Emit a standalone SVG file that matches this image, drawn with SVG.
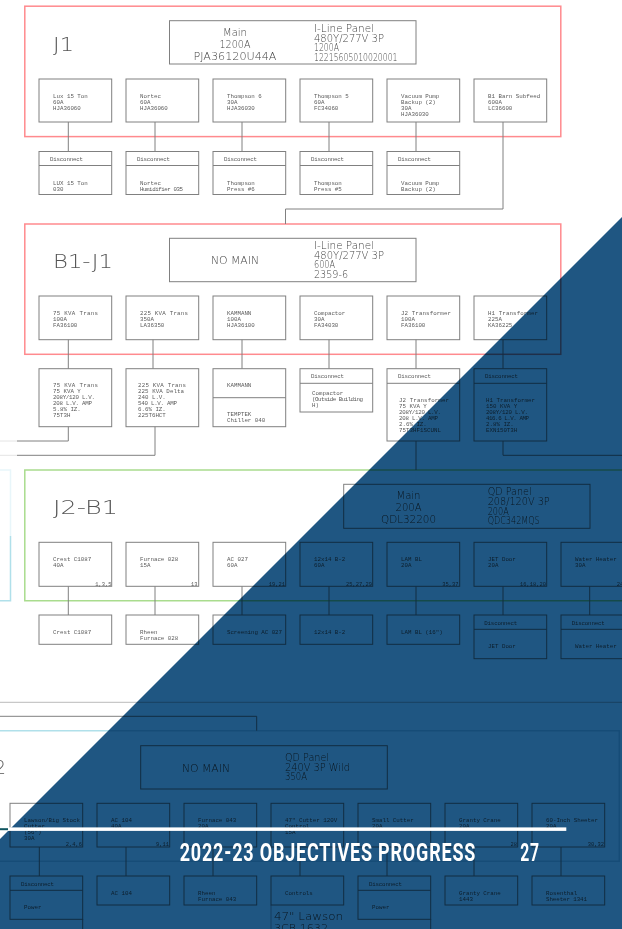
<svg xmlns="http://www.w3.org/2000/svg" width="622" height="929" viewBox="0 0 622 929">
<style>
text{font-family:"Liberation Mono","DejaVu Sans Mono",monospace;fill:#5a5a5a}
.s{font-size:5.8px}
.n{font-size:5.4px;text-anchor:end}
.m{font-family:"DejaVu Sans","Liberation Sans",sans-serif;font-weight:200;font-size:9.6px;fill:#444}
.l{font-family:"DejaVu Sans","Liberation Sans",sans-serif;font-weight:200;font-size:11px;text-anchor:middle;fill:#444}
.t{font-family:"DejaVu Sans","Liberation Sans",sans-serif;font-weight:200;font-size:20px;fill:#555}
.b,.c{fill:none;stroke:#808080;stroke-width:1}
.p{fill:none;stroke:#ff8a8e;stroke-width:1.5}
.g{fill:none;stroke:#a9dc8e;stroke-width:1.5}
.y{fill:none;stroke:#b0e0ea;stroke-width:1.5}
.h{font-family:Roboto,"Liberation Sans",sans-serif;font-weight:700;font-size:26.3px;letter-spacing:1.2px;fill:#fff}
</style>
<rect width="622" height="929" fill="#fff"/>
<g id="frames">
<rect class="p" x="24.8" y="6.2" width="536" height="130.4"/>
<rect class="p" x="24.8" y="224" width="536" height="130.3"/>
<path class="g" d="M630 470H24.8V600.7H630"/>
<path d="M0 470H10.5V536" fill="none" stroke="#e8f6fa" stroke-width="1.5"/>
<path class="y" d="M10.5 536V600.7H0"/>
<path class="y" d="M0 730.7H619.3V861.3H0"/>
<path d="M0 702.3H622" fill="none" stroke="#bbb" stroke-width="1"/>
<path d="M271 905V929" fill="none" stroke="#a8b4bc" stroke-width="1"/>
<path d="M430.7 919V929" fill="none" stroke="#808080" stroke-width="1"/>
<path d="M82.7 919V929" fill="none" stroke="#808080" stroke-width="1"/>
</g>
<g id="connectors">
<path class="c" d="M68.3 122V151.5M155 122V151.5M242 122V151.5M329 122V151.5M416 122V151.5"/>
<path class="c" d="M503 122V209H285.5V224"/>
<path class="c" d="M68.3 339.7V368.7M153 339.7V368.7M242 339.7V368.7M329 339.7V368.7M416 339.7V368.7M503 339.7V368.7"/>
<path class="c" d="M68.3 426.7V441H17"/>
<path d="M17 441H0M17 455.3H0" fill="none" stroke="#e4e4e4" stroke-width="1"/>
<path class="c" d="M155 426.7V455.3H17"/>
<path class="c" d="M416 441V470"/>
<path class="c" d="M503 441V455.3H622"/>
<path class="c" d="M68.3 586.3V615M155 586.3V615M242 586.3V615M329 586.3V615M416 586.3V615M503 586.3V615M589.7 586.3V615"/>
<path class="c" d="M0 716.3H256.7V730.7"/>
<path class="c" d="M39.3 847V876M126 847V876M213 847V876M300 847V876M387 847V876M474 847V876M561 847V876"/>
</g>

<g id="j1">
<text class="t" x="53" y="50.7" textLength="21" lengthAdjust="spacingAndGlyphs">J1</text>
<g id="j1-main"><rect class="b" x="169.5" y="20.7" width="246.5" height="43.3"/>
<text class="l" x="235" y="35.7" textLength="24" lengthAdjust="spacingAndGlyphs">Main</text><text class="l" x="235" y="47.7" textLength="31" lengthAdjust="spacingAndGlyphs">1200A</text><text class="l" x="235" y="59.7" textLength="83" lengthAdjust="spacingAndGlyphs">PJA36120U44A</text>
<text class="m" x="314" y="32" textLength="60" lengthAdjust="spacingAndGlyphs">I-Line Panel</text><text class="m" x="314" y="41.5" textLength="70" lengthAdjust="spacingAndGlyphs">480Y/277V 3P</text><text class="m" x="314" y="51" textLength="25" lengthAdjust="spacingAndGlyphs">1200A</text><text class="m" x="314" y="60.6" textLength="83.5" lengthAdjust="spacingAndGlyphs">12215605010020001</text></g>
<g id="j1-lux"><rect class="b" x="39" y="79" width="72.7" height="43"/><text class="s" x="53" y="97.5">Lux 15 Ton</text><text class="s" x="53" y="103.5">60A</text><text class="s" x="53" y="109.5">HJA36060</text></g>
<g id="j1-nortec"><rect class="b" x="126" y="79" width="72.7" height="43"/><text class="s" x="140" y="97.5">Nortec</text><text class="s" x="140" y="103.5">60A</text><text class="s" x="140" y="109.5">HJA36060</text></g>
<g id="j1-thompson6"><rect class="b" x="213" y="79" width="72.7" height="43"/><text class="s" x="227" y="97.5">Thompson 6</text><text class="s" x="227" y="103.5">30A</text><text class="s" x="227" y="109.5">HJA36030</text></g>
<g id="j1-thompson5"><rect class="b" x="300" y="79" width="72.7" height="43"/><text class="s" x="314" y="97.5">Thompson 5</text><text class="s" x="314" y="103.5">60A</text><text class="s" x="314" y="109.5">FC34060</text></g>
<g id="j1-vacuum"><rect class="b" x="387" y="79" width="72.7" height="43"/><text class="s" x="401" y="97.5">Vacuum Pump</text><text class="s" x="401" y="103.5">Backup (2)</text><text class="s" x="401" y="109.5">30A</text><text class="s" x="401" y="115.5">HJA36030</text></g>
<g id="j1-b1barn"><rect class="b" x="474" y="79" width="72.7" height="43"/><text class="s" x="488" y="97.5">B1 Barn Subfeed</text><text class="s" x="488" y="103.5">600A</text><text class="s" x="488" y="109.5">LC36600</text></g>
<g id="j1-d1"><rect class="b" x="39" y="151.5" width="72.7" height="43"/><path class="b" d="M39 165.5H111.7"/><text class="s" x="50" y="161" textLength="33">Disconnect</text><text class="s" x="53" y="184.5">LUX 15 Ton</text><text class="s" x="53" y="190.5">030</text></g>
<g id="j1-d2"><rect class="b" x="126" y="151.5" width="72.7" height="43"/><path class="b" d="M126 165.5H198.7"/><text class="s" x="137" y="161" textLength="33">Disconnect</text><text class="s" x="140" y="184.5">Nortec</text><text class="s" x="140" y="190.5" textLength="43">Humidifier 035</text></g>
<g id="j1-d3"><rect class="b" x="213" y="151.5" width="72.7" height="43"/><path class="b" d="M213 165.5H285.7"/><text class="s" x="224" y="161" textLength="33">Disconnect</text><text class="s" x="227" y="184.5">Thompson</text><text class="s" x="227" y="190.5">Press #6</text></g>
<g id="j1-d4"><rect class="b" x="300" y="151.5" width="72.7" height="43"/><path class="b" d="M300 165.5H372.7"/><text class="s" x="311" y="161" textLength="33">Disconnect</text><text class="s" x="314" y="184.5">Thompson</text><text class="s" x="314" y="190.5">Press #5</text></g>
<g id="j1-d5"><rect class="b" x="387" y="151.5" width="72.7" height="43"/><path class="b" d="M387 165.5H459.7"/><text class="s" x="398" y="161" textLength="33">Disconnect</text><text class="s" x="401" y="184.5">Vacuum Pump</text><text class="s" x="401" y="190.5">Backup (2)</text></g>
</g>

<g id="b1j1">
<text class="t" x="53" y="268" textLength="60" lengthAdjust="spacingAndGlyphs">B1-J1</text>
<g id="b1-main"><rect class="b" x="169.5" y="238.3" width="246.5" height="43.4"/>
<text class="l" x="235" y="264.3" textLength="48" lengthAdjust="spacingAndGlyphs">NO MAIN</text>
<text class="m" x="314" y="249" textLength="60" lengthAdjust="spacingAndGlyphs">I-Line Panel</text><text class="m" x="314" y="258.6" textLength="70" lengthAdjust="spacingAndGlyphs">480Y/277V 3P</text><text class="m" x="314" y="268.3" textLength="21" lengthAdjust="spacingAndGlyphs">600A</text><text class="m" x="314" y="278" textLength="34" lengthAdjust="spacingAndGlyphs">2359-6</text></g>
<g id="b1-75"><rect class="b" x="39" y="296" width="72.7" height="43.7"/><text class="s" x="53" y="315" textLength="45">75 KVA Trans</text><text class="s" x="53" y="321">100A</text><text class="s" x="53" y="327">FA36100</text></g>
<g id="b1-225"><rect class="b" x="126" y="296" width="72.7" height="43.7"/><text class="s" x="140" y="315" textLength="48">225 KVA Trans</text><text class="s" x="140" y="321">350A</text><text class="s" x="140" y="327">LA36350</text></g>
<g id="b1-kammann"><rect class="b" x="213" y="296" width="72.7" height="43.7"/><text class="s" x="227" y="315">KAMMANN</text><text class="s" x="227" y="321">100A</text><text class="s" x="227" y="327">HJA36100</text></g>
<g id="b1-compactor"><rect class="b" x="300" y="296" width="72.7" height="43.7"/><text class="s" x="314" y="315">Compactor</text><text class="s" x="314" y="321">30A</text><text class="s" x="314" y="327">FA34030</text></g>
<g id="b1-j2"><rect class="b" x="387" y="296" width="72.7" height="43.7"/><text class="s" x="401" y="315" textLength="50">J2 Transformer</text><text class="s" x="401" y="321">100A</text><text class="s" x="401" y="327">FA36100</text></g>
<g id="b1-h1"><rect class="b" x="474" y="296" width="72.7" height="43.7"/><text class="s" x="488" y="315" textLength="50">H1 Transformer</text><text class="s" x="488" y="321">225A</text><text class="s" x="488" y="327">KA36225</text></g>
<g id="b1-l75"><rect class="b" x="39" y="368.7" width="72.7" height="58"/><text class="s" x="53" y="387.3" textLength="45">75 KVA Trans</text><text class="s" x="53" y="393.3">75 KVA Y</text><text class="s" x="53" y="399.3" textLength="42">208Y/120 L.V.</text><text class="s" x="53" y="405.3" textLength="39">208 L.V. AMP</text><text class="s" x="53" y="411.3">5.8% IZ.</text><text class="s" x="53" y="417.3">75T3H</text></g>
<g id="b1-l225"><rect class="b" x="126" y="368.7" width="72.7" height="58"/><text class="s" x="138" y="387.3" textLength="48">225 KVA Trans</text><text class="s" x="138" y="393.3" textLength="46">225 KVA Delta</text><text class="s" x="138" y="399.3">240 L.V.</text><text class="s" x="138" y="405.3" textLength="39">540 L.V. AMP</text><text class="s" x="138" y="411.3">6.6% IZ.</text><text class="s" x="138" y="417.3">225T6HCT</text></g>
<g id="b1-lkam"><rect class="b" x="213" y="368.7" width="72.7" height="58"/><path class="b" d="M213 397.7H285.7"/><text class="s" x="227" y="387.3">KAMMANN</text><text class="s" x="227" y="416.3">TEMPTEK</text><text class="s" x="227" y="422.3">Chiller 040</text></g>
<g id="b1-lcomp"><rect class="b" x="300" y="368.7" width="72.7" height="43.3"/><path class="b" d="M300 383.3H372.7"/><text class="s" x="311" y="378.2" textLength="33">Disconnect</text><text class="s" x="312" y="395">Compactor</text><text class="s" x="312" y="401" textLength="51">(Outside Building</text><text class="s" x="312" y="407">H)</text></g>
<g id="b1-lj2"><rect class="b" x="387" y="368.7" width="72.7" height="72.3"/><path class="b" d="M387 383.3H459.7"/><text class="s" x="398" y="378.2" textLength="33">Disconnect</text><text class="s" x="399" y="402" textLength="50">J2 Transformer</text><text class="s" x="399" y="408">75 KVA Y</text><text class="s" x="399" y="414" textLength="42">208Y/120 L.V.</text><text class="s" x="399" y="420" textLength="39">208 L.V. AMP</text><text class="s" x="399" y="426">2.6% IZ.</text><text class="s" x="399" y="432" textLength="42">75T3HF1SCUNL</text></g>
<g id="b1-lh1"><rect class="b" x="474" y="368.7" width="72.7" height="72.3"/><path class="b" d="M474 383.3H546.7"/><text class="s" x="485" y="378.2" textLength="33">Disconnect</text><text class="s" x="486" y="402" textLength="49">H1 Transformer</text><text class="s" x="486" y="408">150 KVA Y</text><text class="s" x="486" y="414" textLength="42">208Y/120 L.V.</text><text class="s" x="486" y="420" textLength="43">416.6 L.V. AMP</text><text class="s" x="486" y="426">2.8% IZ.</text><text class="s" x="486" y="432">EXN150T3H</text></g>
</g>

<g id="j2b1">
<text class="t" x="53" y="514" textLength="65" lengthAdjust="spacingAndGlyphs">J2-B1</text>
<g id="j2-main"><rect class="b" x="343.7" y="484.3" width="246.3" height="44"/>
<text class="l" x="408.5" y="499.3" textLength="24" lengthAdjust="spacingAndGlyphs">Main</text><text class="l" x="408.5" y="511.3" textLength="26" lengthAdjust="spacingAndGlyphs">200A</text><text class="l" x="408.5" y="523.3" textLength="55" lengthAdjust="spacingAndGlyphs">QDL32200</text>
<text class="m" x="487.7" y="495.3" textLength="44" lengthAdjust="spacingAndGlyphs">QD Panel</text><text class="m" x="487.7" y="505" textLength="62" lengthAdjust="spacingAndGlyphs">208/120V 3P</text><text class="m" x="487.7" y="514.6" textLength="21" lengthAdjust="spacingAndGlyphs">200A</text><text class="m" x="487.7" y="524.3" textLength="52" lengthAdjust="spacingAndGlyphs">QDC342MQS</text></g>
<g id="j2-crest"><rect class="b" x="39" y="542.3" width="72.7" height="44"/><text class="s" x="53" y="561.3">Crest C1087</text><text class="s" x="53" y="567.3">40A</text><text class="n" x="111.5" y="585.5">1,3,5</text></g>
<g id="j2-furnace"><rect class="b" x="126" y="542.3" width="72.7" height="44"/><text class="s" x="140" y="561.3">Furnace 028</text><text class="s" x="140" y="567.3">15A</text><text class="n" x="197.5" y="585.5">13</text></g>
<g id="j2-ac"><rect class="b" x="213" y="542.3" width="72.7" height="44"/><text class="s" x="227" y="561.3">AC 027</text><text class="s" x="227" y="567.3">60A</text><text class="n" x="285" y="585.5">19,21</text></g>
<g id="j2-12x14"><rect class="b" x="300" y="542.3" width="72.7" height="44"/><text class="s" x="314" y="561.3">12x14 B-2</text><text class="s" x="314" y="567.3">60A</text><text class="n" x="372" y="585.5">25,27,29</text></g>
<g id="j2-lam"><rect class="b" x="387" y="542.3" width="72.7" height="44"/><text class="s" x="401" y="561.3">LAM BL</text><text class="s" x="401" y="567.3">20A</text><text class="n" x="458.5" y="585.5">35,37</text></g>
<g id="j2-jet"><rect class="b" x="474" y="542.3" width="72.7" height="44"/><text class="s" x="488" y="561.3">JET Door</text><text class="s" x="488" y="567.3">20A</text><text class="n" x="546" y="585.5">16,18,20</text></g>
<g id="j2-water"><rect class="b" x="561" y="542.3" width="72.7" height="44"/><text class="s" x="575" y="561.3">Water Heater</text><text class="s" x="575" y="567.3">30A</text><text class="n" x="633" y="585.5">24,26</text></g>
<g id="j2-l1"><rect class="b" x="39" y="615" width="72.7" height="29.3"/><text class="s" x="53" y="633.5">Crest C1087</text></g>
<g id="j2-l2"><rect class="b" x="126" y="615" width="72.7" height="29.3"/><text class="s" x="140" y="633.5">Rheen</text><text class="s" x="140" y="639.5">Furnace 028</text></g>
<g id="j2-l3"><rect class="b" x="213" y="615" width="72.7" height="29.3"/><text class="s" x="227" y="633.5" textLength="55">Screening AC 027</text></g>
<g id="j2-l4"><rect class="b" x="300" y="615" width="72.7" height="29.3"/><text class="s" x="314" y="633.5">12x14 B-2</text></g>
<g id="j2-l5"><rect class="b" x="387" y="615" width="72.7" height="29.3"/><text class="s" x="401" y="633.5">LAM BL (16")</text></g>
<g id="j2-l6"><rect class="b" x="474" y="615" width="72.7" height="43.7"/><path class="b" d="M474 629.3H546.7"/><text class="s" x="484.3" y="624.5" textLength="33">Disconnect</text><text class="s" x="488" y="648.3">JET Door</text></g>
<g id="j2-l7"><rect class="b" x="561" y="615" width="72.7" height="43.7"/><path class="b" d="M561 629.3H633.7"/><text class="s" x="571.7" y="624.5" textLength="33">Disconnect</text><text class="s" x="575" y="648.3">Water Heater</text></g>
</g>

<g id="j3">
<text class="t" x="-6" y="774" textLength="12" lengthAdjust="spacingAndGlyphs">2</text>
<g id="j3-main"><rect class="b" x="140.7" y="745.7" width="246.6" height="43.3"/>
<text class="l" x="206" y="771.8" textLength="48" lengthAdjust="spacingAndGlyphs">NO MAIN</text>
<text class="m" x="285" y="761" textLength="44" lengthAdjust="spacingAndGlyphs">QD Panel</text><text class="m" x="285" y="770.8" textLength="65" lengthAdjust="spacingAndGlyphs">240V 3P Wild</text><text class="m" x="285" y="780.3" textLength="22" lengthAdjust="spacingAndGlyphs">350A</text></g>
<g id="j3-lawson"><rect class="b" x="10" y="803.3" width="72.7" height="43.7"/><text class="s" x="24" y="822.2" textLength="56">Lawson/Big Stock</text><text class="s" x="24" y="828.2">Cutter</text><text class="s" x="24" y="834.2">(56")</text><text class="s" x="24" y="840.2">30A</text><text class="n" x="82" y="846">2,4,6</text></g>
<g id="j3-ac"><rect class="b" x="97" y="803.3" width="72.7" height="43.7"/><text class="s" x="111" y="822.2">AC 104</text><text class="s" x="111" y="828.2">40A</text><text class="n" x="169" y="846">9,11</text></g>
<g id="j3-furnace"><rect class="b" x="184" y="803.3" width="72.7" height="43.7"/><text class="s" x="198" y="822.2">Furnace 043</text><text class="s" x="198" y="828.2">20A</text></g>
<g id="j3-cutter47"><rect class="b" x="271" y="803.3" width="72.7" height="43.7"/><text class="s" x="285" y="822.2">47" Cutter 120V</text><text class="s" x="285" y="828.2">Control</text><text class="s" x="285" y="834.2">15A</text></g>
<g id="j3-small"><rect class="b" x="358" y="803.3" width="72.7" height="43.7"/><text class="s" x="372" y="822.2">Small Cutter</text><text class="s" x="372" y="828.2">20A</text></g>
<g id="j3-granty"><rect class="b" x="445" y="803.3" width="72.7" height="43.7"/><text class="s" x="459" y="822.2">Granty Crane</text><text class="s" x="459" y="828.2">20A</text><text class="n" x="517" y="846">28</text></g>
<g id="j3-sheeter"><rect class="b" x="532" y="803.3" width="72.7" height="43.7"/><text class="s" x="546" y="822.2" textLength="52">60-Inch Sheeter</text><text class="s" x="546" y="828.2">20A</text><text class="n" x="604" y="846">30,32</text></g>
<g id="j3-l1"><rect class="b" x="10" y="876" width="72.7" height="43.3"/><path class="b" d="M10 890.3H82.7"/><text class="s" x="21" y="885.5" textLength="33">Disconnect</text><text class="s" x="24" y="909.3">Power</text></g>
<g id="j3-l2"><rect class="b" x="97" y="876" width="72.7" height="29"/><text class="s" x="111" y="894.5">AC 104</text></g>
<g id="j3-l3"><rect class="b" x="184" y="876" width="72.7" height="29"/><text class="s" x="198" y="894.5">Rheen</text><text class="s" x="198" y="900.5">Furnace 043</text></g>
<g id="j3-l4"><rect class="b" x="271" y="876" width="72.7" height="29"/><text class="s" x="285" y="894.5">Controls</text></g>
<g id="j3-l5"><rect class="b" x="358" y="876" width="72.7" height="43.3"/><path class="b" d="M358 890.3H430.7"/><text class="s" x="369" y="885.5" textLength="33">Disconnect</text><text class="s" x="372" y="909.3">Power</text></g>
<g id="j3-l6"><rect class="b" x="445" y="876" width="72.7" height="29"/><text class="s" x="459" y="894.5">Granty Crane</text><text class="s" x="459" y="900.5">1443</text></g>
<g id="j3-l7"><rect class="b" x="532" y="876" width="72.7" height="29"/><text class="s" x="546" y="894.5">Rosenthal</text><text class="s" x="546" y="900.5" textLength="41">Sheeter 1341</text></g>
<g id="j3-note"><text class="l" x="308.5" y="920" textLength="69" lengthAdjust="spacingAndGlyphs">47" Lawson</text><text class="l" x="301" y="932" textLength="54" lengthAdjust="spacingAndGlyphs">3CB 1632</text></g>
</g>

<polygon points="622,217 622,929 0,929 0,839" fill="#1f5682" style="mix-blend-mode:multiply"/>
<g id="heading">
<rect x="0" y="828.2" width="8" height="2" fill="#0f5560"/>
<rect x="8" y="827.4" width="558.3" height="3.5" fill="#fff"/>
<text class="h" x="179.7" y="861" textLength="296.5" lengthAdjust="spacingAndGlyphs">2022-23 OBJECTIVES PROGRESS</text>
<text class="h" x="520.3" y="861" textLength="19.5" lengthAdjust="spacingAndGlyphs">27</text>
</g>
</svg>
